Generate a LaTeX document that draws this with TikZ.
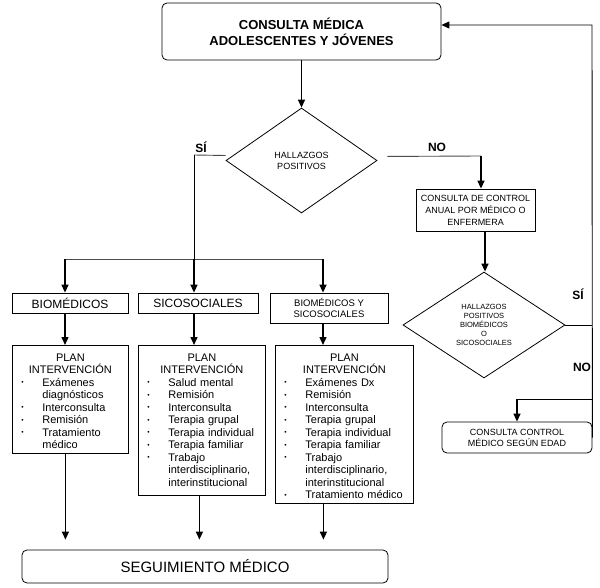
\documentclass[tikz,border=0pt]{standalone}
\usepackage{fontspec}
\setmainfont{Liberation Sans}
\usepackage{graphicx}
\usetikzlibrary{%
  arrows.meta,%
  shapes.geometric,% wg. diamond
  positioning,%
  calc
}

\newcommand{\pbul}{\makebox[21pt][l]{\raisebox{0.25ex}{\scalebox{0.6}{\textbullet}}}}
\newcommand{\pitem}[1]{\par\noindent\hangindent=21pt\hangafter=1\pbul#1\par}
\newcommand{\phead}{{\centering\rule{0pt}{12pt}PLAN\\INTERVENCIÓN\par}}

\begin{document}
\begin{tikzpicture}
[x=1pt, y=-1pt, line width=0.8pt, >={Triangle[length=8pt,width=7pt]},
box/.style={rectangle, draw, inner sep=0pt, align=center},
rbox/.style={box, rounded corners=5pt},
dec/.style={diamond, draw, inner sep=0pt, align=center},
plan/.style={rectangle, draw, anchor=north west, inner xsep=9pt, inner ysep=4pt, font=\fontsize{11}{12.5}\selectfont},
arr/.style={->, line width=1.4pt},
link/.style={line width=0.9pt},
stub/.style={line width=0.9pt, draw=black!70},
lbl/.style={font=\bfseries\fontsize{12}{14}\selectfont}]

\path[fill=white, use as bounding box] (0,0) rectangle (600,588);

\node[rbox, minimum width=279pt, minimum height=57pt, font=\bfseries\fontsize{13}{16}\selectfont] (top) at (301.5,31.5) {CONSULTA MÉDICA\\ADOLESCENTES Y JÓVENES};
\node[dec, minimum width=151pt, minimum height=105pt, font=\fontsize{9}{11}\selectfont] (dia1) at (301.5,160.5) {HALLAZGOS\\POSITIVOS};
\node[box, minimum width=119pt, minimum height=42pt, font=\fontsize{9}{12}\selectfont] (ctrl) at (475.5,210) {CONSULTA DE CONTROL\\ANUAL POR MÉDICO O\\ENFERMERA};
\node[dec, minimum width=162pt, minimum height=106pt, font=\fontsize{7.5}{8.8}\selectfont] (dia2) at (484,325) {HALLAZGOS\\POSITIVOS\\BIOMÉDICOS\\O\\SICOSOCIALES};
\node[rbox, minimum width=150pt, minimum height=31pt, font=\fontsize{9}{11}\selectfont] (age) at (517,437.5) {CONSULTA CONTROL\\MÉDICO SEGÚN EDAD};

\node[box, minimum width=116pt, minimum height=20pt, font=\fontsize{12}{13}\selectfont] (bio) at (70,303) {BIOMÉDICOS};
\node[box, minimum width=120pt, minimum height=20pt, font=\fontsize{12}{13}\selectfont] (sico) at (198,303) {SICOSOCIALES};
\node[box, minimum width=118pt, minimum height=30pt, font=\fontsize{9.5}{11}\selectfont] (bmsc) at (329,308) {BIOMÉDICOS Y\\SICOSOCIALES};

\node[plan, text width=98pt] (plan1) at (12,345) {\phead
  \pitem{Exámenes\newline diagnósticos}
  \pitem{Interconsulta}
  \pitem{Remisión}
  \pitem{Tratamiento\newline médico}};
\node[plan, text width=109pt] (plan2) at (138,345) {\phead
  \pitem{Salud mental}
  \pitem{Remisión}
  \pitem{Interconsulta}
  \pitem{Terapia grupal}
  \pitem{Terapia individual}
  \pitem{Terapia familiar}
  \pitem{Trabajo\newline interdisciplinario,\newline interinstitucional\rule[-5pt]{0pt}{5pt}}};
\node[plan, text width=120pt] (plan3) at (275,345) {\phead
  \pitem{Exámenes Dx}
  \pitem{Remisión}
  \pitem{Interconsulta}
  \pitem{Terapia grupal}
  \pitem{Terapia individual}
  \pitem{Terapia familiar}
  \pitem{Trabajo\newline interdisciplinario,\newline interinstitucional}
  \pitem{Tratamiento médico}};

\node[rbox, minimum width=366pt, minimum height=33pt, font=\fontsize{15}{17}\selectfont] (seg) at (205,566.5) {SEGUIMIENTO MÉDICO};

% labels
\node[lbl] (si1) at (201,147) {SÍ};
\node[lbl] (no1) at (437,147) {NO};
\node[lbl] (si2) at (578,294) {SÍ};
\node[lbl] (no2) at (582,367) {NO};

% turning points
\coordinate (siturn) at (194,155);
\coordinate (split) at (194,259);
\coordinate (jl) at (65,259);
\coordinate (jr) at (323,259);
\coordinate (noturn) at (481,156);
\coordinate (loop) at (592,25);
\coordinate (ageturn) at (592,399);

\draw[arr] (top.south) -- (dia1.north);

\draw[stub] ([yshift=5pt]dia1.west) -- (siturn);
\draw[link] (siturn) -- (split);
\draw[stub] (jl) -- (jr);
\foreach \c/\b in {jl/bio, split/sico, jr/bmsc} {
  \draw[arr] (\c) -- (\c |- \b.north);
}
\foreach \c/\b/\p in {jl/bio/plan1, split/sico/plan2, jr/bmsc/plan3} {
  \draw[arr] (\c |- \b.south) -- (\c |- \p.north);
}
\foreach \p/\s in {plan1/-5pt, plan2/-2.5pt, plan3/-21pt} {
  \draw[arr, shorten >=10pt] ([xshift=\s]\p.south) -- ([xshift=\s]\p.south |- seg.north);
}

\draw[stub, shorten <=10pt] ([yshift=4pt]dia1.east) -- (noturn);
\draw[arr] (noturn) -- (noturn |- ctrl.north);
\draw[arr] ([xshift=9.5pt]ctrl.south) -- ([xshift=9.5pt]ctrl.south |- dia2.north);

\draw[link] (dia2.east) -- (dia2.east -| age.east);
\draw[link, ->] (age.east) -- (loop) -- (loop -| top.east);
\draw[link] (ageturn) -| ++(-75,0);
\draw[arr] (ageturn -| age.north) -- (age.north);
\end{tikzpicture}
\end{document}
